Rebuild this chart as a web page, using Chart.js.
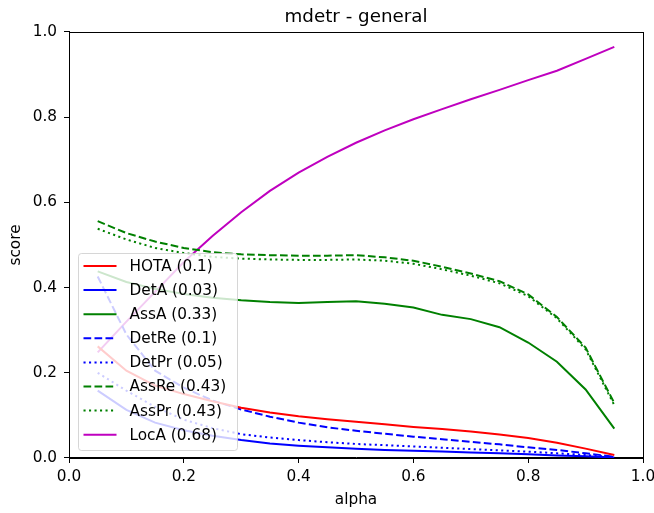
<!DOCTYPE html>
<html>
<head>
<meta charset="utf-8">
<script src="https://cdn.jsdelivr.net/npm/chart.js@4.4.1/dist/chart.umd.min.js"></script>
<style>
  html, body { margin: 0; padding: 0; background: #ffffff; }
  #wrap { width: 654px; height: 513px; }
</style>
</head>
<body>
<div id="wrap"><canvas id="c" width="654" height="513"></canvas></div>
<script>
const titleText = "mdetr - general";
const xLabel = "alpha";
const yLabel = "score";
const alpha = [0.05, 0.10, 0.15, 0.20, 0.25, 0.30, 0.35, 0.40, 0.45, 0.50, 0.55, 0.60, 0.65, 0.70, 0.75, 0.80, 0.85, 0.90, 0.95];
const seriesLabels = ["HOTA (0.1)", "DetA (0.03)", "AssA (0.33)", "DetRe (0.1)", "DetPr (0.05)", "AssRe (0.43)", "AssPr (0.43)", "LocA (0.68)"];
const HOTA  = [0.262, 0.205, 0.170, 0.150, 0.133, 0.118, 0.107, 0.098, 0.091, 0.085, 0.079, 0.073, 0.068, 0.062, 0.055, 0.047, 0.036, 0.022, 0.007];
const DetA  = [0.158, 0.113, 0.083, 0.065, 0.052, 0.042, 0.034, 0.029, 0.025, 0.022, 0.019, 0.017, 0.015, 0.013, 0.011, 0.009, 0.006, 0.004, 0.001];
const AssA  = [0.438, 0.413, 0.397, 0.385, 0.376, 0.370, 0.366, 0.364, 0.366, 0.368, 0.362, 0.353, 0.336, 0.326, 0.307, 0.271, 0.226, 0.161, 0.069];
const DetRe = [0.426, 0.290, 0.205, 0.165, 0.135, 0.114, 0.097, 0.083, 0.072, 0.064, 0.057, 0.050, 0.044, 0.038, 0.032, 0.025, 0.019, 0.011, 0.003];
const DetPr = [0.200, 0.158, 0.120, 0.090, 0.070, 0.056, 0.048, 0.042, 0.037, 0.033, 0.030, 0.027, 0.024, 0.021, 0.018, 0.015, 0.011, 0.007, 0.002];
const AssRe = [0.556, 0.528, 0.508, 0.493, 0.483, 0.478, 0.476, 0.475, 0.475, 0.476, 0.471, 0.463, 0.449, 0.433, 0.415, 0.384, 0.331, 0.259, 0.129];
const AssPr = [0.538, 0.513, 0.493, 0.481, 0.472, 0.468, 0.466, 0.465, 0.465, 0.466, 0.463, 0.456, 0.443, 0.428, 0.410, 0.380, 0.328, 0.255, 0.124];
const LocA  = [0.248, 0.320, 0.390, 0.460, 0.521, 0.577, 0.627, 0.670, 0.707, 0.740, 0.769, 0.795, 0.819, 0.842, 0.864, 0.887, 0.909, 0.937, 0.965];
const xTicks = [0.0, 0.2, 0.4, 0.6, 0.8, 1.0];
const yTicks = [0.0, 0.2, 0.4, 0.6, 0.8, 1.0];

const FONT = "'DejaVu Sans', sans-serif";
const FS = 15.3;
const RED = "#ff0000", BLUE = "#0000ff", GREEN = "#008000", MAG = "#bf00bf";
const DASH = [7.7, 3.3], DOT = [2.1, 3.4];

const seriesValues = [HOTA, DetA, AssA, DetRe, DetPr, AssRe, AssPr, LocA];
const seriesStyle = [
  {c: RED, d: []}, {c: BLUE, d: []}, {c: GREEN, d: []}, {c: BLUE, d: DASH},
  {c: BLUE, d: DOT}, {c: GREEN, d: DASH}, {c: GREEN, d: DOT}, {c: MAG, d: []}
];

const datasets = seriesValues.map((vals, i) => ({
  label: seriesLabels[i],
  data: alpha.map((a, j) => ({x: a, y: vals[j]})),
  borderColor: seriesStyle[i].c,
  backgroundColor: seriesStyle[i].c,
  borderDash: seriesStyle[i].d,
  borderWidth: 2,
  pointRadius: 0,
  tension: 0,
  fill: false,
  borderCapStyle: 'butt'
}));

const bgPlugin = {
  id: 'bg',
  beforeDraw(chart) {
    const ctx = chart.ctx;
    ctx.save();
    ctx.fillStyle = '#ffffff';
    ctx.fillRect(0, 0, chart.width, chart.height);
    ctx.restore();
  }
};

const framePlugin = {
  id: 'frame',
  afterDatasetsDraw(chart) {
    const {ctx, chartArea: a} = chart;
    ctx.save();
    ctx.strokeStyle = '#000000';
    ctx.lineWidth = 1;
    ctx.setLineDash([]);
    ctx.strokeRect(Math.round(a.left) + 0.5, Math.round(a.top) + 0.5,
                   Math.round(a.right - a.left), Math.round(a.bottom - a.top));
    ctx.restore();

    // legend (matplotlib-like, inside the axes, lower left)
    const x0 = a.left + 9.5, y0 = 253.5, w = 159, h = 197;
    ctx.save();
    ctx.beginPath();
    const r = 3;
    ctx.moveTo(x0 + r, y0);
    ctx.lineTo(x0 + w - r, y0);
    ctx.arcTo(x0 + w, y0, x0 + w, y0 + r, r);
    ctx.lineTo(x0 + w, y0 + h - r);
    ctx.arcTo(x0 + w, y0 + h, x0 + w - r, y0 + h, r);
    ctx.lineTo(x0 + r, y0 + h);
    ctx.arcTo(x0, y0 + h, x0, y0 + h - r, r);
    ctx.lineTo(x0, y0 + r);
    ctx.arcTo(x0, y0, x0 + r, y0, r);
    ctx.closePath();
    ctx.fillStyle = 'rgba(255,255,255,0.8)';
    ctx.fill();
    ctx.strokeStyle = 'rgba(204,204,204,0.8)';
    ctx.lineWidth = 1;
    ctx.stroke();
    ctx.font = FS + 'px ' + FONT;
    ctx.textBaseline = 'middle';
    ctx.textAlign = 'left';
    chart.data.datasets.forEach((ds, i) => {
      const cy = 266 + i * 24.1;
      ctx.beginPath();
      ctx.setLineDash(ds.borderDash || []);
      ctx.strokeStyle = ds.borderColor;
      ctx.lineWidth = 2;
      ctx.moveTo(x0 + 5, cy);
      ctx.lineTo(x0 + 38, cy);
      ctx.stroke();
      ctx.setLineDash([]);
      ctx.fillStyle = '#000000';
      ctx.fillText(ds.label, x0 + 51, cy + 1);
    });
    ctx.restore();
  }
};

new Chart(document.getElementById('c'), {
  type: 'line',
  data: { datasets },
  options: {
    responsive: false,
    animation: false,
    devicePixelRatio: 1,
    layout: { padding: { left: 0, right: 11, top: 0, bottom: 0 } },
    plugins: {
      legend: { display: false },
      tooltip: { enabled: false },
      title: {
        display: true,
        fullSize: false,
        text: titleText,
        color: '#000000',
        font: { family: FONT, size: 18.3, weight: 'normal', lineHeight: 1.2 },
        padding: { top: 6.5, bottom: 3.5 }
      }
    },
    scales: {
      x: {
        type: 'linear',
        min: 0, max: 1,
        afterBuildTicks(scale) { scale.ticks = xTicks.map(v => ({value: v})); },
        afterFit(scale) { scale.height = 55; scale.paddingLeft = 0; scale.paddingRight = 0; },
        ticks: {
          color: '#000000',
          font: { family: FONT, size: FS },
          padding: 5,
          maxRotation: 0,
          callback: v => Number(v).toFixed(1)
        },
        grid: { drawOnChartArea: false, drawTicks: true, tickLength: 5, color: '#000000', tickWidth: 1 },
        border: { display: true, color: '#000000', width: 1 },
        title: {
          display: true, text: xLabel, color: '#000000',
          font: { family: FONT, size: FS },
          padding: { top: 2, bottom: 4 }
        }
      },
      y: {
        type: 'linear',
        min: 0, max: 1,
        afterBuildTicks(scale) { scale.ticks = yTicks.map(v => ({value: v})); },
        afterFit(scale) { scale.width = 69; scale.paddingTop = 0; scale.paddingBottom = 0; },
        ticks: {
          color: '#000000',
          font: { family: FONT, size: FS },
          padding: 7,
          callback: v => Number(v).toFixed(1)
        },
        grid: { drawOnChartArea: false, drawTicks: true, tickLength: 5, color: '#000000', tickWidth: 1 },
        border: { display: true, color: '#000000', width: 1 },
        title: {
          display: true, text: yLabel, color: '#000000',
          font: { family: FONT, size: FS },
          padding: { top: 7, bottom: 2 }
        }
      }
    }
  },
  plugins: [bgPlugin, framePlugin]
});
</script>
</body>
</html>
